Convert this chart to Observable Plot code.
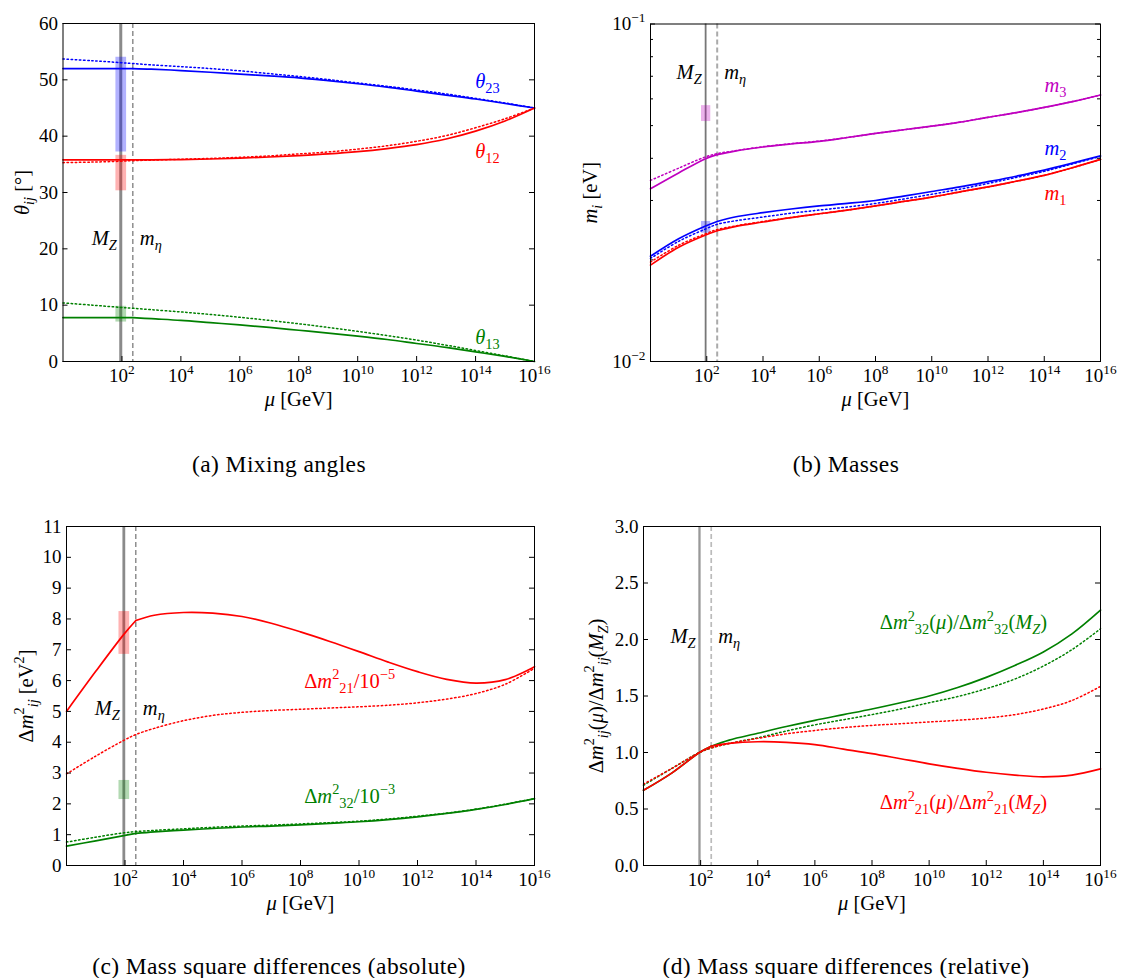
<!DOCTYPE html>
<html><head><meta charset="utf-8">
<script src="https://cdn.jsdelivr.net/npm/d3@7"></script>
<script src="https://cdn.jsdelivr.net/npm/@observablehq/plot@0.6"></script>
<style>
body{margin:0;background:#fff;}
#fig{position:relative;width:1126px;height:978px;font-family:"Liberation Serif",serif;color:#000;background:#fff;overflow:hidden}
#fig svg{position:absolute;overflow:visible}
.cap{position:absolute;font-size:23.5px;letter-spacing:0.4px;white-space:nowrap;transform:translate(-50%,-50%);font-family:"Liberation Serif",serif}
</style></head><body><div id="fig"></div>
<script>
// ---------- data ----------
const MU = [1, 10, 91.19, 235, 1e3, 1e4, 1e5, 1e6, 1e7, 1e8, 1e9, 1e10, 1e11, 1e12, 1e13, 1e14, 1e15, 1e16];
const MZ = 91.19, ETA = 235;
const XTICKS = [1e2, 1e4, 1e6, 1e8, 1e10, 1e12, 1e14, 1e16];

// (a) mixing angles [deg]
const th23 = [52.0, 52.0, 52.0, 52.0, 51.9, 51.65, 51.35, 51.0, 50.7, 50.35, 49.85, 49.3, 48.7, 48.0, 47.3, 46.6, 45.8, 45.0];
const th23d = [53.7, 53.4, 53.05, 52.9, 52.65, 52.35, 52.0, 51.6, 51.1, 50.6, 50.05, 49.45, 48.85, 48.2, 47.5, 46.7, 45.9, 45.0];
const th12 = [35.8, 35.8, 35.8, 35.8, 35.8, 35.85, 35.95, 36.1, 36.3, 36.55, 36.85, 37.25, 37.8, 38.5, 39.5, 40.9, 42.7, 45.0];
const th12d = [35.3, 35.4, 35.55, 35.65, 35.75, 35.9, 36.05, 36.25, 36.5, 36.85, 37.2, 37.7, 38.3, 39.1, 40.1, 41.5, 43.1, 45.0];
const th13 = [7.8, 7.8, 7.8, 7.8, 7.6, 7.3, 6.9, 6.5, 6.05, 5.55, 5.05, 4.5, 3.9, 3.2, 2.5, 1.7, 0.9, 0.0];
const th13d = [10.4, 10.0, 9.6, 9.45, 9.2, 8.8, 8.35, 7.85, 7.3, 6.7, 6.05, 5.35, 4.6, 3.8, 2.9, 1.95, 1.0, 0.0];
const bandA = [{c: "#0000ff", lo: 37.2, hi: 54.0}, {c: "#ff0000", lo: 30.3, hi: 36.6}, {c: "#008000", lo: 7.0, hi: 9.8}];

// (b) masses [eV]
const m3 = [0.0325, 0.0362, 0.0399, 0.0410, 0.0420, 0.0432, 0.0441, 0.0449, 0.0461, 0.0474, 0.0486, 0.0498, 0.0512, 0.0529, 0.0546, 0.0566, 0.0589, 0.0616];
const m3d = [0.0344, 0.0374, 0.0404, 0.0413, 0.0421, 0.0433, 0.0442, 0.0450, 0.0461, 0.0474, 0.0486, 0.0498, 0.0512, 0.0529, 0.0546, 0.0566, 0.0589, 0.0616];
const m2 = [0.0205, 0.0231, 0.0252, 0.0260, 0.0268, 0.0276, 0.0283, 0.0289, 0.0294, 0.0300, 0.0309, 0.0319, 0.0329, 0.0341, 0.0354, 0.0369, 0.0387, 0.0407];
const m2d = [0.0202, 0.0227, 0.0247, 0.0255, 0.0261, 0.0268, 0.0275, 0.0281, 0.0287, 0.0294, 0.0303, 0.0313, 0.0324, 0.0337, 0.0351, 0.0366, 0.0385, 0.0405];
const m1 = [0.0193, 0.0218, 0.0237, 0.0244, 0.0251, 0.0259, 0.0267, 0.0274, 0.0281, 0.0289, 0.0298, 0.0307, 0.0318, 0.0329, 0.0342, 0.0356, 0.0375, 0.0397];
const m1d = [0.0197, 0.0221, 0.0239, 0.0246, 0.0252, 0.0260, 0.0267, 0.0274, 0.0281, 0.0289, 0.0298, 0.0307, 0.0318, 0.0329, 0.0342, 0.0356, 0.0375, 0.0397];
const bandB = [{c: "#bf00bf", lo: 0.0514, hi: 0.0573}, {c: "#0000ff", lo: 0.0240, hi: 0.0260}];
const YTICKS_B = [0.01, 0.1];
const YMINOR_B = [0.02, 0.03, 0.04, 0.05, 0.06, 0.07, 0.08, 0.09];

// (c) mass square differences (absolute)
const d21 = [5.0, 6.3, 7.5, 7.95, 8.12, 8.21, 8.19, 8.08, 7.86, 7.58, 7.27, 6.94, 6.6, 6.29, 6.04, 5.92, 6.03, 6.45];
const d21d = [2.97, 3.55, 4.06, 4.25, 4.45, 4.7, 4.87, 4.97, 5.03, 5.07, 5.11, 5.15, 5.2, 5.28, 5.4, 5.58, 5.88, 6.4];
const d32 = [0.63, 0.8, 0.97, 1.04, 1.09, 1.15, 1.2, 1.25, 1.28, 1.32, 1.37, 1.42, 1.49, 1.58, 1.69, 1.82, 1.98, 2.17];
const d32d = [0.76, 0.92, 1.06, 1.10, 1.14, 1.19, 1.24, 1.28, 1.31, 1.35, 1.39, 1.44, 1.51, 1.6, 1.7, 1.83, 1.99, 2.17];
const bandC = [{c: "#ff0000", lo: 6.85, hi: 8.24}, {c: "#008000", lo: 2.14, hi: 2.76}];

// (d) mass square differences (relative)
const r32 = [0.665, 0.82, 1.0, 1.055, 1.11, 1.17, 1.23, 1.285, 1.335, 1.385, 1.44, 1.5, 1.575, 1.665, 1.77, 1.89, 2.05, 2.26];
const r32d = [0.71, 0.86, 1.0, 1.04, 1.08, 1.13, 1.19, 1.245, 1.29, 1.335, 1.385, 1.44, 1.495, 1.565, 1.65, 1.765, 1.91, 2.095];
const r21 = [0.665, 0.82, 1.0, 1.055, 1.08, 1.095, 1.09, 1.07, 1.03, 0.99, 0.945, 0.9, 0.86, 0.825, 0.8, 0.785, 0.8, 0.855];
const r21d = [0.72, 0.86, 1.0, 1.04, 1.08, 1.125, 1.165, 1.195, 1.22, 1.24, 1.255, 1.27, 1.285, 1.305, 1.335, 1.385, 1.46, 1.585];

// ---------- helpers ----------
const BLUE = "#0000ff", RED = "#ff0000", GREEN = "#008000", MAG = "#bf00bf";
const FONT = "'Liberation Serif', serif";
const FS = 19, LFS = 20.5;
function rows(vals, split) {
  const out = [];
  MU.forEach((mu, i) => {
    if (!split) { out.push({mu, v: vals[i], z: "all"}); return; }
    if (mu <= ETA) out.push({mu, v: vals[i], z: "lo"});
    if (mu >= ETA) out.push({mu, v: vals[i], z: "hi"});
  });
  return out;
}
const solid = (vals, c) => Plot.line(rows(vals, true), {x: "mu", y: "v", z: "z", stroke: c, strokeWidth: 1.7, curve: "catmull-rom"});
const dotted = (vals, c) => Plot.line(rows(vals, false), {x: "mu", y: "v", stroke: c, strokeWidth: 1.5, strokeDasharray: "1.5,2.6", curve: "catmull-rom"});
const pow10 = d => { const e = Math.round(Math.log10(d)); return "10^{" + (e < 0 ? "\u2212" + (-e) : e) + "}"; };

function panel(o) {
  const FH = o.height - o.mt - o.mb, FW = o.width - o.ml - o.mr;
  const marks = [];
  marks.push(Plot.ruleX([MZ], {x: d => d, stroke: o.mzColor, strokeWidth: o.mzWidth}));
  marks.push(Plot.ruleX([ETA], {x: d => d, stroke: o.etaColor, strokeWidth: o.etaWidth, strokeDasharray: "5,3"}));
  for (const b of (o.bands || [])) marks.push(Plot.ruleX([b], {x: () => MZ, y1: "lo", y2: "hi", stroke: b.c, strokeOpacity: 0.3, strokeWidth: o.bandWidth}));
  marks.push(...o.curves);
  for (const L of o.labels) marks.push(Plot.text([L], {x: "mu", y: "v", text: "t", fill: L.c || "black", textAnchor: L.a || "middle", lineAnchor: "middle", dx: L.dx || 0, fontSize: LFS}));
  marks.push(Plot.tickX(XTICKS, {x: d => d, insetTop: FH - 5, stroke: "black"}));
  marks.push(Plot.tickY(o.yticks, {y: d => d, insetRight: FW - 5, stroke: "black"}));
  marks.push(Plot.tickY(o.yticks, {y: d => d, insetLeft: FW - 5, stroke: "black"}));
  if (o.yminor) {
    marks.push(Plot.tickY(o.yminor, {y: d => d, insetRight: FW - 3, stroke: "black"}));
    marks.push(Plot.tickY(o.yminor, {y: d => d, insetLeft: FW - 3, stroke: "black"}));
  }
  marks.push(Plot.axisX(XTICKS, {tickSize: 0, tickPadding: 7, tickFormat: pow10, label: null, fontSize: FS}));
  marks.push(Plot.axisY(o.yticks, {tickSize: 0, tickPadding: 5, tickFormat: o.yfmt, label: null, fontSize: FS}));
  marks.push(Plot.frame({stroke: "black", strokeWidth: 1}));
  marks.push(Plot.text(["*μ* [GeV]"], {frameAnchor: "bottom", lineAnchor: "middle", textAnchor: "middle", dy: 38, text: d => d, fontSize: LFS}));
  marks.push(Plot.text([o.ylabel], {frameAnchor: "left", lineAnchor: "middle", textAnchor: "middle", rotate: -90, dx: o.ylabDx, text: d => d, fontSize: LFS}));
  const svg = Plot.plot({
    width: o.width, height: o.height,
    marginLeft: o.ml, marginRight: o.mr, marginTop: o.mt, marginBottom: o.mb,
    style: {fontFamily: FONT, fontSize: FS + "px", background: "transparent", overflow: "visible"},
    x: {type: "log", domain: [1, 1e16]},
    y: o.y,
    marks
  });
  svg.style.left = o.left + "px";
  svg.style.top = o.top + "px";
  return svg;
}

// rich text: ^{..} superscript, _{..} subscript, *..* italic
function parseRich(s) {
  const segs = []; let mode = "n", it = false, buf = "";
  const flush = () => { if (buf) { segs.push({t: buf, mode, it}); buf = ""; } };
  for (let i = 0; i < s.length; i++) {
    const c = s[i];
    if ((c === "^" || c === "_") && s[i + 1] === "{") { flush(); mode = c === "^" ? "sup" : "sub"; i++; continue; }
    if (c === "}" && mode !== "n") { flush(); mode = "n"; continue; }
    if (c === "*") { flush(); it = !it; continue; }
    buf += c;
  }
  flush();
  return segs;
}
function richify(svg) {
  const NS = "http://www.w3.org/2000/svg";
  svg.querySelectorAll("text").forEach(el => {
    const s = el.textContent;
    if (!/[\^_*]/.test(s)) return;
    const fs = parseFloat(getComputedStyle(el).fontSize) || FS;
    const segs = parseRich(s);
    el.textContent = "";
    let shift = 0;
    for (const g of segs) {
      const ts = document.createElementNS(NS, "tspan");
      ts.textContent = g.t;
      const target = g.mode === "sup" ? -0.42 * fs : g.mode === "sub" ? 0.24 * fs : 0;
      if (target !== shift) ts.setAttribute("dy", (target - shift).toFixed(2));
      shift = target;
      if (g.mode !== "n") ts.setAttribute("font-size", (0.7 * fs).toFixed(2));
      if (g.it) ts.setAttribute("font-style", "italic");
      el.appendChild(ts);
    }
  });
}

// ---------- panels ----------
const fig = document.getElementById("fig");
const svgs = [];

svgs.push(panel({
  left: 0, top: 0, width: 560, height: 430, ml: 62.5, mr: 26, mt: 23, mb: 69,
  y: {domain: [0, 60]}, yticks: d3.range(0, 61, 10), yfmt: d => String(d),
  ylabel: "*θ*_{*ij*} [°]", ylabDx: -40.5,
  mzColor: "#8a8a8a", mzWidth: 3, etaColor: "#555", etaWidth: 1, bandWidth: 10.7,
  bands: bandA,
  curves: [dotted(th23d, BLUE), dotted(th12d, RED), dotted(th13d, GREEN), solid(th23, BLUE), solid(th12, RED), solid(th13, GREEN)],
  labels: [
    {mu: 10 ** 14.4, v: 49.7, t: "*θ*_{23}", c: BLUE},
    {mu: 10 ** 14.4, v: 37.3, t: "*θ*_{12}", c: RED},
    {mu: 10 ** 14.4, v: 4.3, t: "*θ*_{13}", c: GREEN},
    {mu: MZ, v: 21.9, t: "*M*_{*Z*}", a: "end", dx: -4},
    {mu: ETA, v: 21.9, t: "*m*_{*η*}", a: "start", dx: 7}
  ]
}));

svgs.push(panel({
  left: 560, top: 0, width: 566, height: 430, ml: 90, mr: 26, mt: 23.5, mb: 69,
  y: {type: "log", domain: [0.01, 0.1]}, yticks: YTICKS_B, yminor: YMINOR_B, yfmt: pow10,
  ylabel: "*m*_{*i*} [eV]", ylabDx: -60,
  mzColor: "#777", mzWidth: 1.8, etaColor: "#aaa", etaWidth: 2, bandWidth: 9.3,
  bands: bandB,
  curves: [dotted(m3d, MAG), dotted(m2d, BLUE), dotted(m1d, RED), solid(m3, MAG), solid(m2, BLUE), solid(m1, RED)],
  labels: [
    {mu: 10 ** 14.4, v: 0.0658, t: "*m*_{3}", c: MAG},
    {mu: 10 ** 14.4, v: 0.0428, t: "*m*_{2}", c: BLUE},
    {mu: 10 ** 14.4, v: 0.0315, t: "*m*_{1}", c: RED},
    {mu: MZ, v: 0.0718, t: "*M*_{*Z*}", a: "end", dx: -4},
    {mu: ETA, v: 0.0718, t: "*m*_{*η*}", a: "start", dx: 7}
  ]
}));

svgs.push(panel({
  left: 0, top: 490, width: 560, height: 430, ml: 66, mr: 26, mt: 36, mb: 55,
  y: {domain: [0, 11]}, yticks: d3.range(0, 12, 1), yfmt: d => String(d),
  ylabel: "Δ*m*^{2}_{*ij*} [eV^{2}]", ylabDx: -40,
  mzColor: "#8a8a8a", mzWidth: 2.8, etaColor: "#555", etaWidth: 1, bandWidth: 10.7,
  bands: bandC,
  curves: [dotted(d21d, RED), dotted(d32d, GREEN), solid(d21, RED), solid(d32, GREEN)],
  labels: [
    {mu: 10 ** 9.68, v: 5.97, t: "Δ*m*^{2}_{21}/10^{−5}", c: RED},
    {mu: 10 ** 9.68, v: 2.24, t: "Δ*m*^{2}_{32}/10^{−3}", c: GREEN},
    {mu: MZ, v: 5.09, t: "*M*_{*Z*}", a: "end", dx: -4},
    {mu: ETA, v: 5.09, t: "*m*_{*η*}", a: "start", dx: 7}
  ]
}));

svgs.push(panel({
  left: 560, top: 490, width: 566, height: 430, ml: 83, mr: 26, mt: 36, mb: 55,
  y: {domain: [0, 3]}, yticks: d3.range(0, 3.01, 0.5), yfmt: d3.format(".1f"),
  ylabel: "Δ*m*^{2}_{*ij*}(*μ*)/Δ*m*^{2}_{*ij*}(*M*_{*Z*})", ylabDx: -47,
  mzColor: "#999", mzWidth: 2.3, etaColor: "#bbb", etaWidth: 1.7, bandWidth: 0,
  bands: [],
  curves: [dotted(r32d, GREEN), dotted(r21d, RED), solid(r32, GREEN), solid(r21, RED)],
  labels: [
    {mu: 10 ** 11.2, v: 2.15, t: "Δ*m*^{2}_{32}(*μ*)/Δ*m*^{2}_{32}(*M*_{*Z*})", c: GREEN},
    {mu: 10 ** 11.2, v: 0.557, t: "Δ*m*^{2}_{21}(*μ*)/Δ*m*^{2}_{21}(*M*_{*Z*})", c: RED},
    {mu: MZ, v: 2.03, t: "*M*_{*Z*}", a: "end", dx: -4},
    {mu: ETA, v: 2.03, t: "*m*_{*η*}", a: "start", dx: 7}
  ]
}));

svgs.forEach(s => fig.appendChild(s));
svgs.forEach(richify);

// captions
const CAPTIONS = [
  {t: "(a)  Mixing angles", x: 279, y: 464},
  {t: "(b)  Masses", x: 846, y: 464},
  {t: "(c)  Mass square differences (absolute)", x: 279, y: 966},
  {t: "(d)  Mass square differences (relative)", x: 846, y: 966}
];
for (const c of CAPTIONS) {
  const d = document.createElement("div");
  d.className = "cap"; d.textContent = c.t;
  d.style.left = c.x + "px"; d.style.top = c.y + "px";
  fig.appendChild(d);
}
</script></body></html>
